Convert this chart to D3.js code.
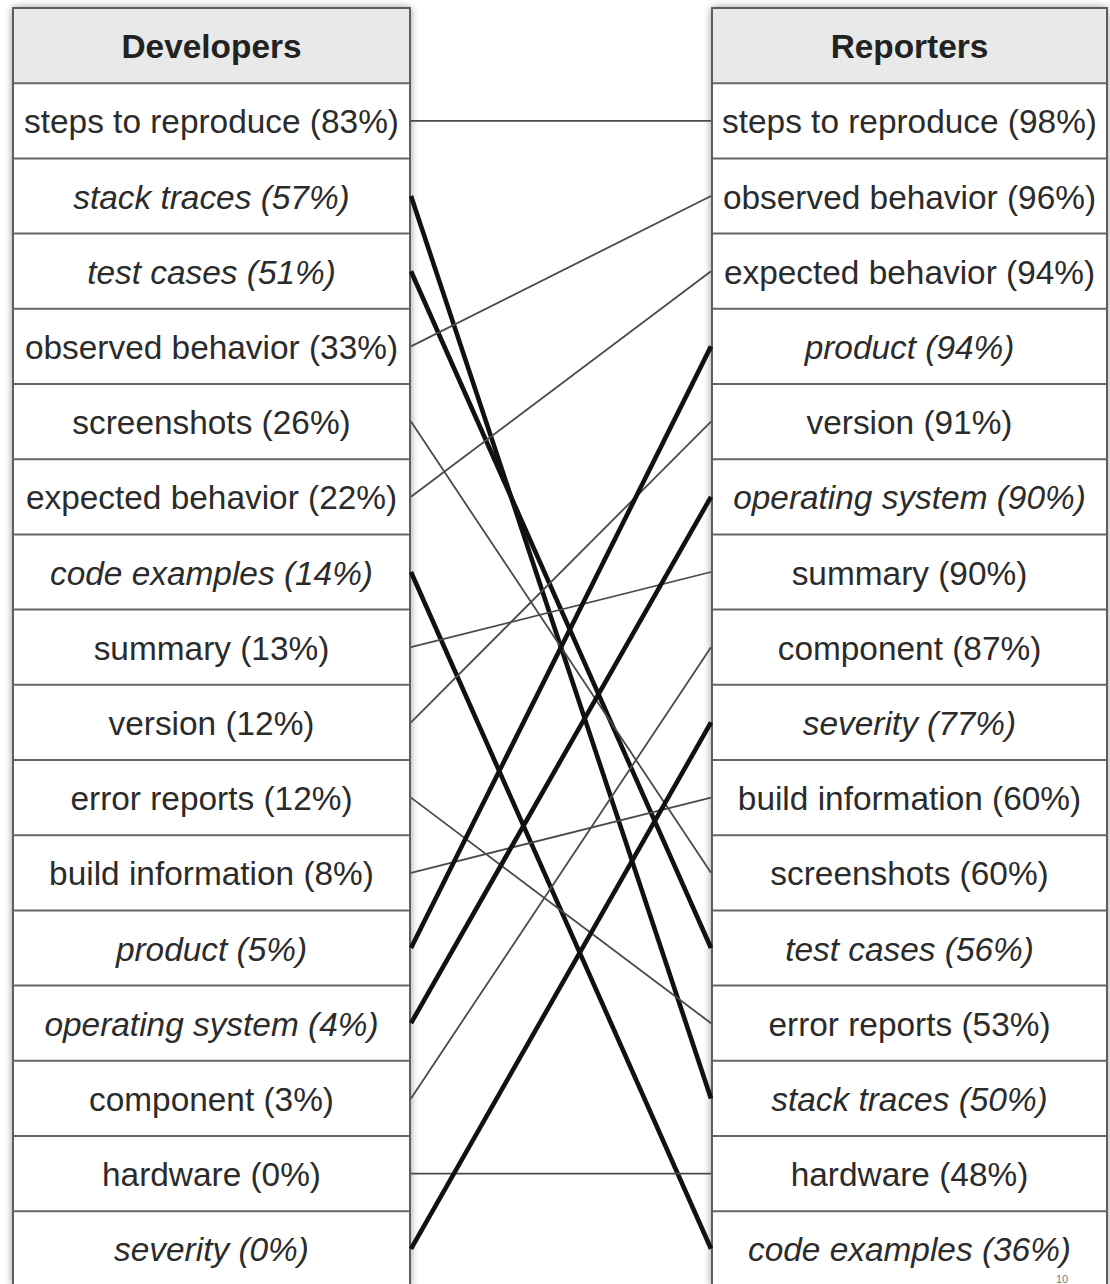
<!DOCTYPE html>
<html>
<head>
<meta charset="utf-8">
<script src="https://cdn.jsdelivr.net/npm/d3@7"></script>
<style>
  html, body { margin: 0; padding: 0; background: #fff; }
  svg { display: block; }
</style>
</head>
<body>
<div id="chart"></div>
<script>
// Columns
const devTitle = 'Developers';
const repTitle = 'Reporters';

const devItems = ['steps to reproduce', 'stack traces', 'test cases', 'observed behavior',
  'screenshots', 'expected behavior', 'code examples', 'summary', 'version',
  'error reports', 'build information', 'product', 'operating system', 'component',
  'hardware', 'severity'];
const devPct = [83, 57, 51, 33, 26, 22, 14, 13, 12, 12, 8, 5, 4, 3, 0, 0];

const repItems = ['steps to reproduce', 'observed behavior', 'expected behavior', 'product',
  'version', 'operating system', 'summary', 'component', 'severity',
  'build information', 'screenshots', 'test cases', 'error reports', 'stack traces',
  'hardware', 'code examples'];
const repPct = [98, 96, 94, 94, 91, 90, 90, 87, 77, 60, 60, 56, 53, 50, 48, 36];

// items shown in italics / with thick links
const emphasized = ['stack traces', 'test cases', 'code examples', 'product',
  'operating system', 'severity'];

const W = 1110, H = 1284;
const cfg = {
  top: 8,
  rowH: 75.2,
  left: { x0: 13, x1: 410 },
  right: { x0: 712, x1: 1107 },
  fontSize: 33.4
};

const svg = d3.select('#chart').append('svg')
  .attr('width', W)
  .attr('height', H);

const defs = svg.append('defs');
const shadow = defs.append('filter')
  .attr('id', 'box-shadow')
  .attr('x', '-20%').attr('y', '-20%')
  .attr('width', '140%').attr('height', '140%');
shadow.append('feGaussianBlur')
  .attr('in', 'SourceAlpha')
  .attr('stdDeviation', 4)
  .attr('result', 'blur');
shadow.append('feComponentTransfer').attr('in', 'blur').attr('result', 'soft')
  .append('feFuncA').attr('type', 'linear').attr('slope', 0.5);
const merge = shadow.append('feMerge');
merge.append('feMergeNode').attr('in', 'soft');
merge.append('feMergeNode').attr('in', 'SourceGraphic');

// one band scale per column: header row + 16 items
const nRows = devItems.length + 1;
const yDev = d3.scaleBand()
  .domain(['__header', ...devItems])
  .range([cfg.top, cfg.top + nRows * cfg.rowH]);
const yRep = d3.scaleBand()
  .domain(['__header', ...repItems])
  .range([cfg.top, cfg.top + nRows * cfg.rowH]);

const isEm = d => emphasized.includes(d);

/**
 * Draw one column of labelled boxes
 */
function drawColumn(title, items, pcts, y, pos) {
  const g = svg.append('g').attr('class', 'column');
  const w = pos.x1 - pos.x0;
  const cx = (pos.x0 + pos.x1) / 2;

  g.append('rect')
    .attr('x', pos.x0)
    .attr('y', y('__header'))
    .attr('width', w)
    .attr('height', y.bandwidth() * nRows)
    .attr('fill', '#fff')
    .attr('filter', 'url(#box-shadow)');

  g.append('rect')
    .attr('x', pos.x0)
    .attr('y', y('__header'))
    .attr('width', w)
    .attr('height', y.bandwidth())
    .attr('fill', '#e9e9e9');

  g.append('text')
    .attr('x', cx)
    .attr('y', y('__header') + y.bandwidth() / 2 + 1)
    .attr('text-anchor', 'middle')
    .attr('dominant-baseline', 'central')
    .attr('font-family', 'Liberation Sans, Arial, Helvetica, sans-serif')
    .attr('font-weight', 'bold')
    .attr('font-size', cfg.fontSize)
    .attr('fill', '#222')
    .text(title);

  const rows = items.map((d, i) => ({ name: d, pct: pcts[i] }));

  g.selectAll('text.item')
    .data(rows)
    .join('text')
    .attr('class', 'item')
    .attr('x', cx)
    .attr('y', d => y(d.name) + y.bandwidth() / 2 + 1)
    .attr('text-anchor', 'middle')
    .attr('dominant-baseline', 'central')
    .attr('font-family', 'Liberation Sans, Arial, Helvetica, sans-serif')
    .attr('font-size', cfg.fontSize)
    .attr('font-style', d => isEm(d.name) ? 'italic' : 'normal')
    .attr('fill', '#2b2b2b')
    .text(d => `${d.name} (${d.pct}%)`);

  // row separators
  g.selectAll('line.sep')
    .data(items)
    .join('line')
    .attr('class', 'sep')
    .attr('x1', pos.x0).attr('x2', pos.x1)
    .attr('y1', d => y(d)).attr('y2', d => y(d))
    .attr('stroke', '#666')
    .attr('stroke-width', 2);

  g.append('rect')
    .attr('x', pos.x0)
    .attr('y', y('__header'))
    .attr('width', w)
    .attr('height', y.bandwidth() * nRows)
    .attr('fill', 'none')
    .attr('stroke', '#5e5e5e')
    .attr('stroke-width', 2);
}

drawColumn(devTitle, devItems, devPct, yDev, cfg.left);
drawColumn(repTitle, repItems, repPct, yRep, cfg.right);

// Links between matching items (drawn on top of the box shadows)
const linksG = svg.append('g').attr('class', 'links');
linksG.selectAll('line')
  .data(devItems)
  .join('line')
  .attr('x1', cfg.left.x1 + 1)
  .attr('x2', cfg.right.x0 - 1)
  .attr('y1', d => yDev(d) + yDev.bandwidth() / 2)
  .attr('y2', d => yRep(d) + yRep.bandwidth() / 2)
  .attr('stroke', d => isEm(d) ? '#111' : '#4a4a4a')
  .attr('stroke-width', d => isEm(d) ? 4.6 : 1.8)
  .attr('stroke-linecap', 'butt');

// page number at the bottom edge
svg.append('text')
  .attr('x', 1062)
  .attr('y', 1283)
  .attr('text-anchor', 'middle')
  .attr('font-family', 'Liberation Sans, Arial, sans-serif')
  .attr('font-size', 11)
  .attr('fill', '#777')
  .text('10');
</script>
</body>
</html>
